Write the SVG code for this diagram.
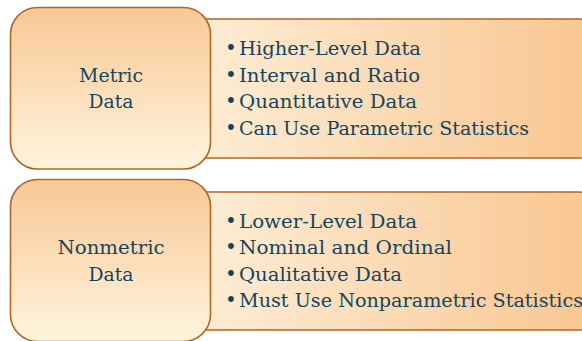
<svg xmlns="http://www.w3.org/2000/svg" width="582" height="341" viewBox="0 0 582 341">
<defs>
<linearGradient id="gv" x1="0" y1="0" x2="0" y2="1">
<stop offset="0" stop-color="#f9c894"/>
<stop offset="1" stop-color="#fff4de"/>
</linearGradient>
<linearGradient id="gh" x1="0" y1="0" x2="1" y2="0">
<stop offset="0" stop-color="#fdeed6"/>
<stop offset="1" stop-color="#f9c690"/>
</linearGradient>
<style>
.box{stroke:#b3661f;stroke-width:1.6}
.r{fill:url(#gh)}
.l{fill:url(#gv)}
text{font-family:"DejaVu Serif","Liberation Serif",serif;font-size:18px;fill:#154460}
.c{text-anchor:middle}
.b{font-size:20px}
</style>
</defs>
<g id="metric-list">
<rect class="box r" x="190" y="19" width="405" height="139" rx="16"/>
<text class="b" x="225" y="55">•</text><text x="239" y="55" textLength="182" lengthAdjust="spacingAndGlyphs">Higher-Level Data</text>
<text class="b" x="225" y="82">•</text><text x="239" y="82" textLength="181" lengthAdjust="spacingAndGlyphs">Interval and Ratio</text>
<text class="b" x="225" y="108">•</text><text x="239" y="108" textLength="178" lengthAdjust="spacingAndGlyphs">Quantitative Data</text>
<text class="b" x="225" y="135">•</text><text x="239" y="135" textLength="290" lengthAdjust="spacingAndGlyphs">Can Use Parametric Statistics</text>
</g>
<g id="metric">
<rect class="box l" x="10.5" y="7.5" width="200" height="161.5" rx="27"/>
<text class="c" x="111" y="82" textLength="64" lengthAdjust="spacingAndGlyphs">Metric</text>
<text class="c" x="111" y="108" textLength="45" lengthAdjust="spacingAndGlyphs">Data</text>
</g>
<g id="nonmetric-list">
<rect class="box r" x="190" y="192" width="405" height="138" rx="16"/>
<text class="b" x="225" y="228">•</text><text x="239" y="228" textLength="178" lengthAdjust="spacingAndGlyphs">Lower-Level Data</text>
<text class="b" x="225" y="254">•</text><text x="239" y="254" textLength="213" lengthAdjust="spacingAndGlyphs">Nominal and Ordinal</text>
<text class="b" x="225" y="281">•</text><text x="239" y="281" textLength="163" lengthAdjust="spacingAndGlyphs">Qualitative Data</text>
<text class="b" x="225" y="307">•</text><text x="239" y="307" textLength="344" lengthAdjust="spacingAndGlyphs">Must Use Nonparametric Statistics</text>
</g>
<g id="nonmetric">
<rect class="box l" x="10.5" y="179.5" width="200" height="162" rx="27"/>
<text class="c" x="111" y="254" textLength="107" lengthAdjust="spacingAndGlyphs">Nonmetric</text>
<text class="c" x="111" y="281" textLength="45" lengthAdjust="spacingAndGlyphs">Data</text>
</g>
<g id="connectors"/>
</svg>
